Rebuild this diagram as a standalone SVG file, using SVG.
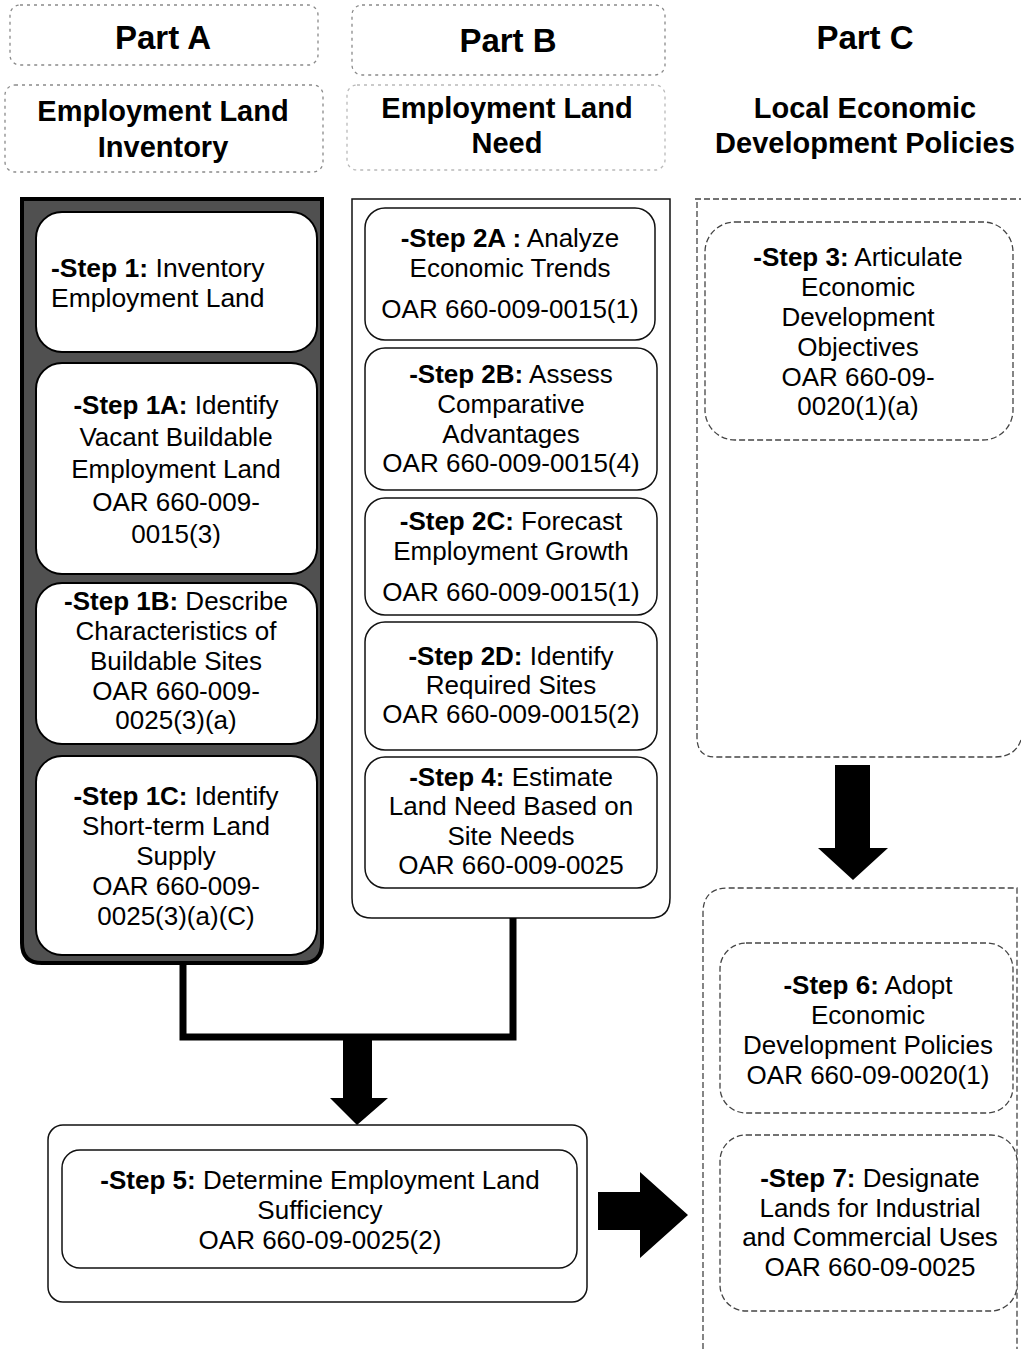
<svg xmlns="http://www.w3.org/2000/svg" width="1021" height="1349" viewBox="0 0 1021 1349">
<style>
text{font-family:"Liberation Sans",Arial,sans-serif;fill:#000;}
.hd{font-weight:bold;font-size:29px;text-anchor:middle;}
.pt{font-weight:bold;font-size:33px;text-anchor:middle;}
.t{font-size:26px;text-anchor:middle;}
.b{font-weight:bold;}
.dash{fill:none;stroke:#8a8a8a;stroke-width:1.3;stroke-dasharray:3 4;}
.box{fill:#fff;stroke:#000;stroke-width:2;}
.tbox{fill:#fff;stroke:#111;stroke-width:1.5;}
.dbox{fill:#fff;stroke:#444;stroke-width:1.3;stroke-dasharray:6 3;}
</style>
<rect width="1021" height="1349" fill="#fff"/>

<g id="header-a">
<rect class="dash" x="10" y="5" width="308" height="60" rx="10"/>
<text class="pt" x="163" y="49">Part A</text>
<rect class="dash" x="5" y="85" width="318" height="87" rx="10"/>
<text class="hd" x="163" y="121">Employment Land</text>
<text class="hd" x="163" y="157">Inventory</text>
</g>
<g id="header-b">
<rect class="dash" x="352" y="5" width="313" height="70" rx="10"/>
<text class="pt" x="508" y="52">Part B</text>
<rect class="dash" x="347" y="85" width="318" height="85" rx="10" stroke-opacity="0.6"/>
<text class="hd" x="507" y="118">Employment  Land</text>
<text class="hd" x="507" y="153">Need</text>
</g>
<g id="header-c">
<text class="pt" x="865" y="49">Part C</text>
<text class="hd" x="865" y="118">Local Economic</text>
<text class="hd" x="865" y="153">Development Policies</text>
</g>

<g id="part-a">
<path d="M22,199 H322 V943 Q322,963 302,963 H42 Q22,963 22,943 Z" fill="#505050" stroke="#000" stroke-width="4"/>
<g id="step1">
<rect class="box" x="36" y="212" width="281" height="140" rx="26"/>
<text x="51" y="277" font-size="26.5"><tspan class="b">-Step 1:</tspan> Inventory</text>
<text x="51" y="307" font-size="26.5">Employment Land</text>
</g>
<g id="step1a">
<rect class="box" x="36" y="363" width="281" height="211" rx="26"/>
<text class="t" font-size="27.5" x="176" y="414"><tspan class="b">-Step 1A:</tspan> Identify</text>
<text class="t" font-size="27.5" x="176" y="446">Vacant Buildable</text>
<text class="t" font-size="27.5" x="176" y="478">Employment Land</text>
<text class="t" font-size="27.5" x="176" y="511">OAR 660-009-</text>
<text class="t" font-size="27.5" x="176" y="543">0015(3)</text>
</g>
<g id="step1b">
<rect class="box" x="36" y="583" width="281" height="161" rx="26"/>
<text class="t" x="176" y="610"><tspan class="b">-Step 1B:</tspan> Describe</text>
<text class="t" x="176" y="640">Characteristics of</text>
<text class="t" x="176" y="670">Buildable Sites</text>
<text class="t" x="176" y="700">OAR 660-009-</text>
<text class="t" x="176" y="729">0025(3)(a)</text>
</g>
<g id="step1c">
<rect class="box" x="36" y="756" width="281" height="199" rx="26"/>
<text class="t" x="176" y="805"><tspan class="b">-Step 1C:</tspan> Identify</text>
<text class="t" x="176" y="835">Short-term Land</text>
<text class="t" x="176" y="865">Supply</text>
<text class="t" x="176" y="895">OAR 660-009-</text>
<text class="t" x="176" y="925">0025(3)(a)(C)</text>
</g>
</g>

<g id="part-b">
<path d="M352,199 H670 V898 Q670,918 650,918 H372 Q352,918 352,898 Z" fill="#fff" stroke="#111" stroke-width="1.5"/>
<g id="step2a">
<rect class="tbox" x="365" y="208" width="290" height="132" rx="20"/>
<text class="t" x="510" y="247"><tspan class="b">-Step 2A :</tspan> Analyze</text>
<text class="t" x="510" y="277">Economic Trends</text>
<text class="t" x="510" y="318">OAR 660-009-0015(1)</text>
</g>
<g id="step2b">
<rect class="tbox" x="365" y="348" width="292" height="142" rx="20"/>
<text class="t" x="511" y="383"><tspan class="b">-Step 2B:</tspan> Assess</text>
<text class="t" x="511" y="413">Comparative</text>
<text class="t" x="511" y="443">Advantages</text>
<text class="t" x="511" y="472">OAR 660-009-0015(4)</text>
</g>
<g id="step2c">
<rect class="tbox" x="365" y="498" width="292" height="117" rx="20"/>
<text class="t" x="511" y="530"><tspan class="b">-Step 2C:</tspan> Forecast</text>
<text class="t" x="511" y="560">Employment Growth</text>
<text class="t" x="511" y="601">OAR 660-009-0015(1)</text>
</g>
<g id="step2d">
<rect class="tbox" x="365" y="622" width="292" height="128" rx="20"/>
<text class="t" x="511" y="665"><tspan class="b">-Step 2D:</tspan> Identify</text>
<text class="t" x="511" y="694">Required Sites</text>
<text class="t" x="511" y="723">OAR 660-009-0015(2)</text>
</g>
<g id="step4">
<rect class="tbox" x="365" y="757" width="292" height="131" rx="20"/>
<text class="t" x="511" y="786"><tspan class="b">-Step 4:</tspan> Estimate</text>
<text class="t" x="511" y="815">Land Need Based on</text>
<text class="t" x="511" y="845">Site Needs</text>
<text class="t" x="511" y="874">OAR 660-009-0025</text>
</g>
</g>

<g id="part-c-upper">
<path class="dbox" d="M695,199 H1021 M1021,740 Q1015,757 995,757 H715 Q697,757 697,737 V199"/>
<g id="step3">
<rect class="dbox" x="705" y="222" width="308" height="218" rx="30"/>
<text class="t" x="858" y="266"><tspan class="b">-Step 3:</tspan> Articulate</text>
<text class="t" x="858" y="296">Economic</text>
<text class="t" x="858" y="326">Development</text>
<text class="t" x="858" y="356">Objectives</text>
<text class="t" x="858" y="386">OAR 660-09-</text>
<text class="t" x="858" y="415">0020(1)(a)</text>
</g>
</g>

<g id="part-c-lower">
<path class="dbox" d="M703,1349 V913 Q703,888 728,888 H1017 V1349"/>
<g id="step6">
<rect class="dbox" x="720" y="943" width="293" height="170" rx="26"/>
<text class="t" x="868" y="994"><tspan class="b">-Step 6:</tspan> Adopt</text>
<text class="t" x="868" y="1024">Economic</text>
<text class="t" x="868" y="1054">Development Policies</text>
<text class="t" x="868" y="1084">OAR 660-09-0020(1)</text>
</g>
<g id="step7">
<rect class="dbox" x="720" y="1135" width="297" height="176" rx="26"/>
<text class="t" x="870" y="1187"><tspan class="b">-Step 7:</tspan> Designate</text>
<text class="t" x="870" y="1217">Lands for Industrial</text>
<text class="t" x="870" y="1246">and Commercial Uses</text>
<text class="t" x="870" y="1276">OAR 660-09-0025</text>
</g>
</g>

<g id="step5">
<rect class="tbox" x="48" y="1125" width="539" height="177" rx="15"/>
<rect class="tbox" x="62" y="1150" width="515" height="118" rx="18"/>
<text class="t" font-size="26.5" x="320" y="1189"><tspan class="b">-Step 5:</tspan> Determine Employment Land</text>
<text class="t" font-size="26.5" x="320" y="1219">Sufficiency</text>
<text class="t" font-size="26.5" x="320" y="1249">OAR 660-09-0025(2)</text>
</g>

<g id="connectors">
<polyline points="183,963 183,1037 513,1037 513,918" fill="none" stroke="#000" stroke-width="7"/>
<polygon points="343,1040 372,1040 372,1098 388,1098 357,1125 330,1098 343,1098" fill="#000"/>
<polygon points="835,765 870,765 870,848 888,848 853,880 818,848 835,848" fill="#000"/>
<polygon points="598,1192 640,1192 640,1172 688,1215 640,1258 640,1230 598,1230" fill="#000"/>
</g>
</svg>
